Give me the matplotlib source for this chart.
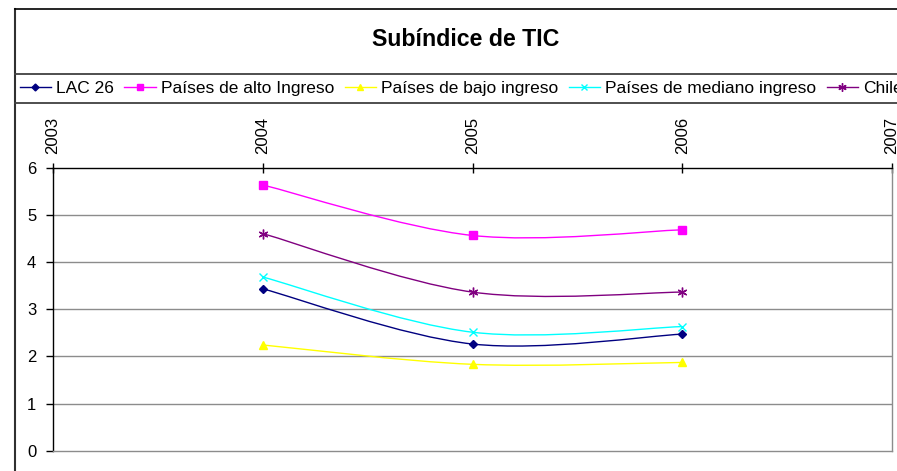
import numpy as np
import matplotlib
matplotlib.use("Agg")
import matplotlib.pyplot as plt
from matplotlib.path import Path
from matplotlib.patches import PathPatch
from matplotlib.lines import Line2D

plt.rcParams['font.family'] = ['Liberation Sans', 'DejaVu Sans']

title = "Subíndice de TIC"
years = [2004, 2005, 2006]
series_names = ["LAC 26", "Países de alto Ingreso", "Países de bajo ingreso",
                "Países de mediano ingreso", "Chile"]
lac26 = [3.43, 2.26, 2.47]
alto = [5.63, 4.56, 4.68]
bajo = [2.24, 1.83, 1.87]
mediano = [3.68, 2.51, 2.63]
chile = [4.60, 3.36, 3.36]
x_ticks = [2003, 2004, 2005, 2006, 2007]
y_ticks = [0, 1, 2, 3, 4, 5, 6]

colors = ["#000080", "#FF00FF", "#FFFF00", "#00FFFF", "#800080"]
markers = ["D", "s", "^", "x", (6, 2, 0)]
msizes = [4.5, 5.5, 6, 6, 7]
values = [lac26, alto, bajo, mediano, chile]

W, H = 897, 471
fig = plt.figure(figsize=(W / 100, H / 100), dpi=100)

def fx(px):
    return px / W

def fy(py):
    return 1 - py / H

ax = fig.add_axes([fx(53), fy(450.7), fx(892) - fx(53), fy(167.5) - fy(450.7)])
ax.set_xlim(2003, 2007)
ax.set_ylim(0, 6)

for v in y_ticks[1:-1]:
    ax.axhline(v, color="#8c8c8c", lw=1.0, zorder=0)


def smooth_path(xs, ys):
    pts = list(zip(xs, ys))
    n = len(pts)
    verts = [pts[0]]
    codes = [Path.MOVETO]
    for i in range(n - 1):
        p0 = np.array(pts[i - 1] if i > 0 else pts[i])
        p1 = np.array(pts[i])
        p2 = np.array(pts[i + 1])
        p3 = np.array(pts[i + 2] if i + 2 < n else pts[i + 1])
        c1 = p1 + (p2 - p0) / 6.0
        c2 = p2 - (p3 - p1) / 6.0
        verts += [tuple(c1), tuple(c2), tuple(p2)]
        codes += [Path.CURVE4] * 3
    return Path(verts, codes)


handles = []
for name, vals, c, m, ms in zip(series_names, values, colors, markers, msizes):
    ax.add_patch(PathPatch(smooth_path(years, vals), fill=False, edgecolor=c,
                           lw=1.0, zorder=2))
    ax.plot(years, vals, linestyle="none", marker=m, color=c, markersize=ms,
            markeredgewidth=1.0, zorder=3)
    handles.append(Line2D([], [], color=c, lw=1.0, marker=m, markersize=ms - 1,
                          markeredgewidth=1.0, label=name))

ax.xaxis.tick_top()
ax.set_xticks(x_ticks)
ax.set_xticklabels([str(x) for x in x_ticks], rotation=90, fontsize=12)
ax.tick_params(axis="x", direction="inout", length=7, width=1, pad=6, colors="black")
ax.set_yticks(y_ticks)
ax.set_yticklabels([str(y) for y in y_ticks], fontsize=12)
ax.tick_params(axis="y", direction="out", length=5, width=1, pad=7)

ax.spines["top"].set_color("black")
ax.spines["left"].set_color("black")
ax.spines["right"].set_color("#8c8c8c")
ax.spines["bottom"].set_color("#8c8c8c")
for s in ax.spines.values():
    s.set_linewidth(1.0)

# outer chart border and legend box lines
fig.add_artist(Line2D([fx(15), fx(15)], [fy(9), 0], color="#303030", lw=1.5))
fig.add_artist(Line2D([fx(15), 1], [fy(9), fy(9)], color="#000000", lw=1.2))
fig.add_artist(Line2D([fx(15), 1], [fy(73.5), fy(73.5)], color="#404040", lw=1.3))
fig.add_artist(Line2D([fx(15), 1], [fy(102.5), fy(102.5)], color="#404040", lw=1.3))

fig.text(fx(465.5), fy(40), title, ha="center", va="center", fontsize=16.7,
         fontweight="bold")

fig.legend(handles=handles, loc="center left", bbox_to_anchor=(fx(19.5), fy(88.5)),
           ncol=5, frameon=False, fontsize=12.5, handlelength=1.8,
           handletextpad=0.3, columnspacing=0.6, borderpad=0, borderaxespad=0)

fig.savefig("out.png", dpi=100)
